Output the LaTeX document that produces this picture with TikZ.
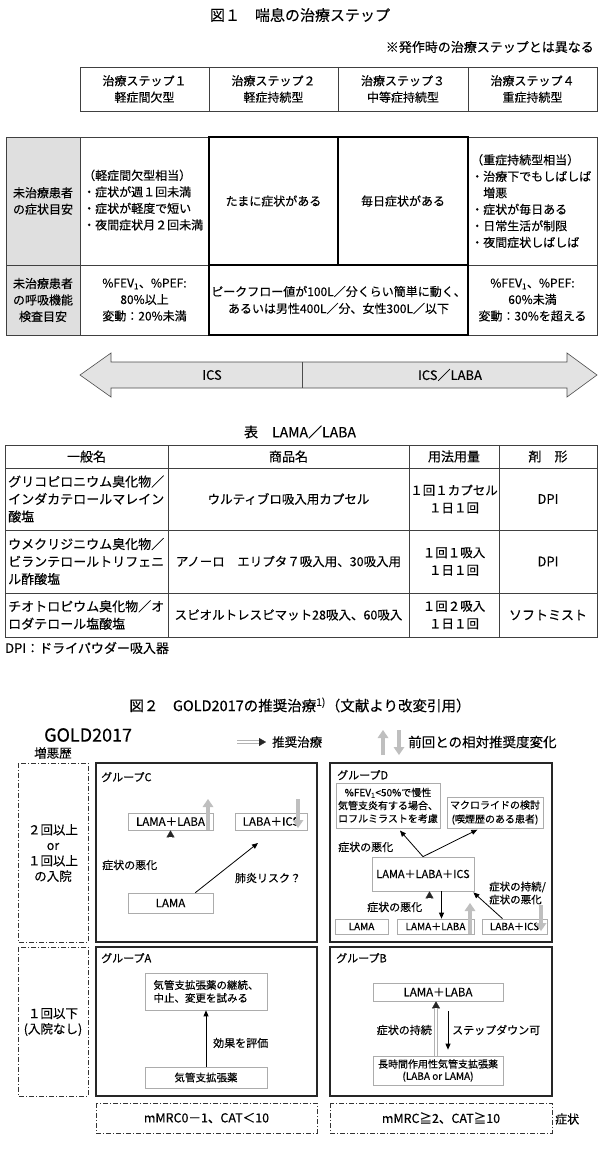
\documentclass[tikz,border=0pt]{standalone}
\usepackage{fontspec}
\setmainfont{Noto Sans CJK JP}[FakeBold=0.25]
\usetikzlibrary{arrows.meta}
\newcommand\fs[2]{\fontsize{#1}{#2}\selectfont}

\begin{document}
\begin{tikzpicture}[x=1pt, y=-1pt,
        tline/.style={draw=black!75, line width=0.7pt},
        bline/.style={draw=black, line width=1.6pt},
        txt/.style={inner sep=0pt, align=center, font=\fs{12}{16.5}},
        ltxt/.style={inner sep=0pt, align=left, anchor=west, font=\fs{12}{16.5}},
        ttxt/.style={inner sep=0pt, align=center, font=\fs{13}{17.5}},
        tltxt/.style={inner sep=0pt, align=left, anchor=west, font=\fs{13}{17.5}},
        gtxt/.style={inner sep=0pt, align=center, font=\fs{11}{13}},
        gltxt/.style={inner sep=0pt, align=left, anchor=west, font=\fs{11}{13}},
        ibox/.style={draw=gray!65, line width=0.7pt, fill=white, inner sep=0pt, align=center, font=\fs{10.5}{13}},
        grpbox/.style={draw=black!85, line width=1.1pt},
        ddbox/.style={draw=black!80, line width=0.8pt, dash pattern=on 5pt off 2pt on 1pt off 2pt},
        upmark/.style={draw=gray!50, line width=4.5pt, -{Triangle[length=8pt,width=11pt,line width=0pt]}},
        blkarrow/.style={draw=black, line width=0.8pt, -{Triangle[length=6pt,width=5pt]}},
        recshaft/.style={draw=gray!60, line width=0.6pt, double=white, double distance=2.4pt, shorten >=7pt},
        rechead/.style={draw=gray!30!black, line width=0.3pt, -{Triangle[length=7pt,width=8pt]}},
    ]
    \useasboundingbox (0,0) rectangle (600,1156);

    % figure 1
    \node[txt, font=\fs{15}{18}] (fig1) at (300,15) {図１　喘息の治療ステップ};
    \node[txt, anchor=east, font=\fs{13}{16}] (note) at (594,47) {※発作時の治療ステップとは異なる};

    \draw[tline] (80,67) rectangle (597,111);
    \foreach \x in {209,338,468} \draw[tline] (\x,67) -- (\x,111);
    \node[txt] (step1) at (144.5,89) {治療ステップ１\\軽症間欠型};
    \node[txt] (step2) at (273.5,89) {治療ステップ２\\軽症持続型};
    \node[txt] (step3) at (403,89) {治療ステップ３\\中等症持続型};
    \node[txt] (step4) at (532.5,89) {治療ステップ４\\重症持続型};

    \fill[gray!25] (6,137) rectangle (80,335);
    \draw[tline] (6,137) rectangle (597,335);
    \draw[tline] (6,265) -- (597,265);
    \draw[tline] (80,137) -- (80,335);
    \draw[bline] (209,137) rectangle (468,335);
    \draw[bline] (209,265) -- (468,265);
    \draw[bline] (338,137) -- (338,265);

    \node[txt] (symhead) at (43,201) {未治療患者\\の症状目安};
    \node[txt] (funhead) at (43,300) {未治療患者\\の呼吸機能\\検査目安};
    \node[ltxt] (sym1) at (83,200) {（軽症間欠型相当）\\・症状が週１回未満\\・症状が軽度で短い\\・夜間症状月２回未満};
    \node[txt] (sym2) at (273.5,201) {たまに症状がある};
    \node[txt] (sym3) at (403,201) {毎日症状がある};
    \node[ltxt] (sym4) at (471,201) {（重症持続型相当）\\・治療下でもしばしば\\　増悪\\・症状が毎日ある\\・日常生活が制限\\・夜間症状しばしば};
    \node[txt] (fun1) at (144.5,300) {\%FEV\textsubscript{1}、\%PEF:\\80\%以上\\変動：20\%未満};
    \node[txt, font=\fs{12}{17}] (fun2) at (338.5,300) {ピークフロー値が100L／分くらい簡単に動く、\\あるいは男性400L／分、女性300L／以下};
    \node[txt] (fun4) at (532.5,300) {\%FEV\textsubscript{1}、\%PEF:\\60\%未満\\変動：30\%を超える};

    \draw[draw=gray!60!black, fill=gray!22, line width=0.6pt] (80,375) -- (111,353) -- (111,362) -- (567,362) -- (567,353) -- (597,375)
        -- (567,397) -- (567,388) -- (111,388) -- (111,397) -- cycle;
    \draw[gray!60!black, line width=0.6pt] (302,362) -- (302,388);
    \node[txt, font=\fs{13}{16}] (ics) at (212,375) {ICS};
    \node[txt, font=\fs{13}{16}] (icslaba) at (450,375) {ICS／LABA};

    % table
    \node[txt, font=\fs{14}{17}] (tabtitle) at (300,432) {表　LAMA／LABA};
    \draw[tline] (5,445) rectangle (597,637);
    \foreach \y in {468,530,593} \draw[tline] (5,\y) -- (597,\y);
    \foreach \x in {168,409,499} \draw[tline] (\x,445) -- (\x,637);
    \node[ttxt] (hgen) at (86.5,456.5) {一般名};
    \node[ttxt] (hprod) at (288.5,456.5) {商品名};
    \node[ttxt] (hdose) at (454,456.5) {用法用量};
    \node[ttxt] (hform) at (548,456.5) {剤　形};
    \node[tltxt] (gen1) at (8,499) {グリコピロニウム臭化物／\\インダカテロールマレイン\\酸塩};
    \node[ttxt, font=\fs{12.5}{17.5}] (prod1) at (288.5,499) {ウルティブロ吸入用カプセル};
    \node[ttxt, font=\fs{12.5}{17.5}] (dose1) at (454,499) {１回１カプセル\\１日１回};
    \node[ttxt] (form1) at (548,499) {DPI};
    \node[tltxt] (gen2) at (8,561.5) {ウメクリジニウム臭化物／\\ビランテロールトリフェニ\\ル酢酸塩};
    \node[ttxt, font=\fs{12.5}{17.5}] (prod2) at (288.5,561.5) {アノーロ　エリプタ７吸入用、30吸入用};
    \node[ttxt, font=\fs{12.5}{17.5}] (dose2) at (454,561.5) {１回１吸入\\１日１回};
    \node[ttxt] (form2) at (548,561.5) {DPI};
    \node[tltxt] (gen3) at (8,615) {チオトロピウム臭化物／オ\\ロダテロール塩酸塩};
    \node[ttxt, font=\fs{12.5}{17.5}] (prod3) at (288.5,615) {スピオルトレスピマット28吸入、60吸入};
    \node[ttxt, font=\fs{12.5}{17.5}] (dose3) at (454,615) {１回２吸入\\１日１回};
    \node[ttxt] (form3) at (548,615) {ソフトミスト};
    \node[tltxt] (foot) at (5,648) {DPI：ドライパウダー吸入器};

    % figure 2
    \node[txt, font=\fs{14.5}{17}] (fig2) at (300,705) {図２　GOLD2017の推奨治療\textsuperscript{1)}（文献より改変引用）};
    \node[ltxt, font=\fs{18}{20}] (gold) at (44,735) {GOLD2017};
    \node[gltxt, font=\fs{12.5}{14}] (exac) at (34,753) {増悪歴};
    \coordinate (legs) at (237,742);
    \coordinate (lege) at (266,742);
    \draw[rechead] (legs) -- (lege);
    \draw[recshaft] (legs) -- (lege);
    \node[gltxt, font=\fs{12.5}{14}] (legrec) at (272,742) {推奨治療};
    \draw[upmark] (383,755) -- (383,730);
    \draw[upmark] (399,730) -- (399,755);
    \node[gltxt, font=\fs{13.5}{15}] (legchg) at (408,742) {前回との相対推奨度変化};

    \draw[ddbox] (18,763) rectangle (88,942);
    \draw[ddbox] (18,947) rectangle (88,1096);
    \draw[grpbox] (96,763) rectangle (317,942);
    \draw[grpbox] (330,763) rectangle (552,942);
    \draw[grpbox] (96,947) rectangle (317,1096);
    \draw[grpbox] (330,947) rectangle (552,1096);
    \draw[ddbox] (96,1103) rectangle (317,1133);
    \draw[ddbox] (330,1103) rectangle (552,1133);

    \node[gtxt, font=\fs{12.5}{15.5}] (hist2) at (53,853) {２回以上\\or\\１回以上\\の入院};
    \node[gtxt, font=\fs{12.5}{15.5}] (hist1) at (53,1022) {１回以下\\(入院なし)};
    \node[gtxt, font=\fs{12.5}{14}] (mmrc1) at (206.5,1118) {mMRC0－1、CAT＜10};
    \node[gtxt, font=\fs{12.5}{14}] (mmrc2) at (441,1118) {mMRC≧2、CAT≧10};
    \node[gltxt, font=\fs{12}{13}] (symp) at (555,1119) {症状};

    % group C
    \node[gltxt] (grpc) at (101,777) {グループC};
    \node[ibox, minimum width=85pt, minimum height=17pt, font=\fs{11.5}{13}] (cll) at (170.5,821.5) {LAMA＋LABA};
    \node[ibox, minimum width=72pt, minimum height=17pt, font=\fs{11.5}{13}] (cli) at (271,821.5) {LABA＋ICS};
    \node[ibox, minimum width=85pt, minimum height=20pt, font=\fs{11.5}{13}] (clama) at (170.5,903) {LAMA};
    \node[gltxt] (cworse) at (102,865) {症状の悪化};
    \node[gtxt] (cpneu) at (268,878) {肺炎リスク？};
    \coordinate (cend) at (258,843);
    \draw[rechead] (clama.north) -- (cll.south);
    \draw[recshaft] (clama.north) -- (cll.south);
    \draw[blkarrow] ([xshift=-18pt]clama.north east) -- (cend);
    \draw[upmark] (208,830) -- (208,799);
    \draw[upmark] (298,799) -- (298,828);

    % group D
    \node[gltxt] (grpd) at (337,775) {グループD};
    \node[ibox, minimum width=104pt, minimum height=45pt, font=\fs{10}{13}] (dfev) at (388,805.5) {\%FEV\textsubscript{1}<50\%で慢性\\気管支炎有する場合、\\ロフルミラストを考慮};
    \node[ibox, minimum width=96pt, minimum height=31pt, font=\fs{10}{14}] (dmac) at (495,812.5) {マクロライドの検討\\(喫煙歴のある患者)};
    \node[gltxt] (dworse1) at (338,847) {症状の悪化};
    \node[ibox, minimum width=102pt, minimum height=34pt, font=\fs{11}{13}] (dlli) at (423,874) {LAMA＋LABA＋ICS};
    \node[gltxt] (dworse2) at (367,907) {症状の悪化};
    \node[gltxt, font=\fs{10.5}{13}] (dkeep) at (489,893) {症状の持続/\\症状の悪化};
    \node[ibox, minimum width=53pt, minimum height=15pt, font=\fs{10}{12}] (dlama) at (361.5,926.5) {LAMA};
    \node[ibox, minimum width=77pt, minimum height=15pt, font=\fs{10}{12}] (dll) at (435.5,926.5) {LAMA＋LABA};
    \node[ibox, minimum width=65pt, minimum height=15pt, font=\fs{10}{12}] (dli) at (514.5,926.5) {LABA＋ICS};
    \draw[blkarrow, shorten >=3pt] (dlli.north) -- ([xshift=10pt]dfev.south);
    \draw[blkarrow, shorten >=3pt] (dlli.north) -- ([xshift=-15pt]dmac.south);
    \draw[rechead] ([xshift=-6pt]dll.north) -- ([xshift=-6pt]dll.north |- dlli.south);
    \draw[recshaft] ([xshift=-6pt]dll.north) -- ([xshift=-6pt]dll.north |- dlli.south);
    \draw[blkarrow] ([xshift=6pt]dll.north |- dlli.south) -- ([xshift=6pt]dll.north);
    \draw[blkarrow] ([xshift=-12pt]dli.north) -- ([xshift=-1pt,yshift=-1pt]dlli.south east);
    \draw[upmark] (470,934) -- (470,903);
    \draw[upmark] (541,905) -- (541,931);

    % group A
    \node[gltxt] (grpa) at (101,958) {グループA};
    \node[ibox, minimum width=122pt, minimum height=37pt, align=left] (acont) at (206,991.5) {気管支拡張薬の継続、\\中止、変更を試みる};
    \node[ibox, minimum width=122pt, minimum height=21pt] (abron) at (206,1077.5) {気管支拡張薬};
    \node[gltxt] (aeval) at (213,1043) {効果を評価};
    \draw[blkarrow] (abron.north) -- (acont.south);

    % group B
    \node[gltxt] (grpb) at (336,958) {グループB};
    \node[ibox, minimum width=130pt, minimum height=18pt, font=\fs{11.5}{13}] (bll) at (438,992) {LAMA＋LABA};
    \node[ibox, minimum width=130pt, minimum height=29pt, font=\fs{10}{12}] (blong) at (438,1070.5) {長時間作用性気管支拡張薬\\(LABA or LAMA)};
    \node[gtxt, anchor=east] (bkeep) at (432,1030) {症状の持続};
    \node[gltxt] (bdown) at (452,1030) {ステップダウン可};
    \draw[rechead] ([xshift=-2pt]blong.north) -- ([xshift=-2pt]bll.south);
    \draw[recshaft] ([xshift=-2pt]blong.north) -- ([xshift=-2pt]bll.south);
    \draw[blkarrow] ([xshift=10pt,yshift=-10pt]bll.south) -- ([xshift=10pt,yshift=6pt]blong.north);
\end{tikzpicture}
\end{document}
